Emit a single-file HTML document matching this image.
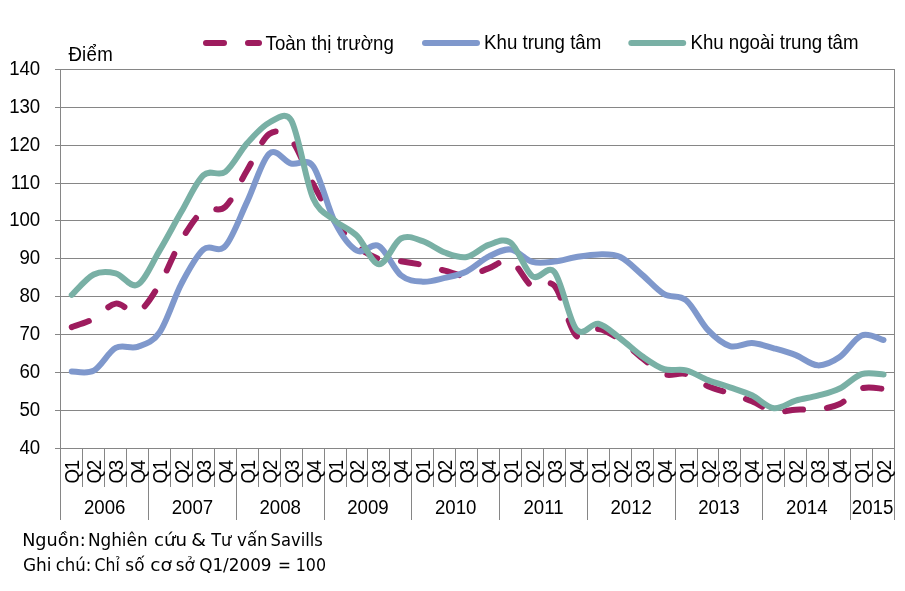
<!DOCTYPE html>
<html lang="vi">
<head>
<meta charset="utf-8">
<title>Chỉ số giá</title>
<style>
html,body{margin:0;padding:0;background:#fff;}
body{width:905px;height:591px;overflow:hidden;position:relative;}
svg{will-change:transform;position:absolute;left:0;top:0;display:block;}
.a{font-family:"Liberation Sans",Arial,sans-serif;font-size:18.67px;fill:#000;}
.n{font-family:"DejaVu Sans","Liberation Sans",sans-serif;font-size:17.5px;fill:#000;}
</style>
</head>
<body>
<svg width="905" height="591" viewBox="0 0 905 591">
<rect x="0" y="0" width="905" height="591" fill="#ffffff"/>
<g stroke="#868686" stroke-width="1" shape-rendering="crispEdges"><line x1="55" y1="69.5" x2="895" y2="69.5"/><line x1="55" y1="107.5" x2="895" y2="107.5"/><line x1="55" y1="145.5" x2="895" y2="145.5"/><line x1="55" y1="183.5" x2="895" y2="183.5"/><line x1="55" y1="220.5" x2="895" y2="220.5"/><line x1="55" y1="258.5" x2="895" y2="258.5"/><line x1="55" y1="296.5" x2="895" y2="296.5"/><line x1="55" y1="334.5" x2="895" y2="334.5"/><line x1="55" y1="372.5" x2="895" y2="372.5"/><line x1="55" y1="410.5" x2="895" y2="410.5"/><line x1="55" y1="448.5" x2="895" y2="448.5"/><line x1="60.5" y1="69" x2="60.5" y2="519.5"/><line x1="894.5" y1="69" x2="894.5" y2="448"/><line x1="82.5" y1="448" x2="82.5" y2="486.5"/><line x1="104.5" y1="448" x2="104.5" y2="486.5"/><line x1="126.5" y1="448" x2="126.5" y2="486.5"/><line x1="148.5" y1="448" x2="148.5" y2="519.5"/><line x1="170.5" y1="448" x2="170.5" y2="486.5"/><line x1="192.5" y1="448" x2="192.5" y2="486.5"/><line x1="214.5" y1="448" x2="214.5" y2="486.5"/><line x1="236.5" y1="448" x2="236.5" y2="519.5"/><line x1="258.5" y1="448" x2="258.5" y2="486.5"/><line x1="280.5" y1="448" x2="280.5" y2="486.5"/><line x1="302.5" y1="448" x2="302.5" y2="486.5"/><line x1="324.5" y1="448" x2="324.5" y2="519.5"/><line x1="346.5" y1="448" x2="346.5" y2="486.5"/><line x1="367.5" y1="448" x2="367.5" y2="486.5"/><line x1="389.5" y1="448" x2="389.5" y2="486.5"/><line x1="411.5" y1="448" x2="411.5" y2="519.5"/><line x1="433.5" y1="448" x2="433.5" y2="486.5"/><line x1="455.5" y1="448" x2="455.5" y2="486.5"/><line x1="477.5" y1="448" x2="477.5" y2="486.5"/><line x1="499.5" y1="448" x2="499.5" y2="519.5"/><line x1="521.5" y1="448" x2="521.5" y2="486.5"/><line x1="543.5" y1="448" x2="543.5" y2="486.5"/><line x1="565.5" y1="448" x2="565.5" y2="486.5"/><line x1="587.5" y1="448" x2="587.5" y2="519.5"/><line x1="609.5" y1="448" x2="609.5" y2="486.5"/><line x1="631.5" y1="448" x2="631.5" y2="486.5"/><line x1="653.5" y1="448" x2="653.5" y2="486.5"/><line x1="675.5" y1="448" x2="675.5" y2="519.5"/><line x1="697.5" y1="448" x2="697.5" y2="486.5"/><line x1="718.5" y1="448" x2="718.5" y2="486.5"/><line x1="740.5" y1="448" x2="740.5" y2="486.5"/><line x1="762.5" y1="448" x2="762.5" y2="519.5"/><line x1="784.5" y1="448" x2="784.5" y2="486.5"/><line x1="806.5" y1="448" x2="806.5" y2="486.5"/><line x1="828.5" y1="448" x2="828.5" y2="486.5"/><line x1="850.5" y1="448" x2="850.5" y2="519.5"/><line x1="872.5" y1="448" x2="872.5" y2="486.5"/><line x1="894.5" y1="448" x2="894.5" y2="519.5"/></g>
<g class="a" text-anchor="end" style="letter-spacing:-0.2px"><text transform="translate(39.90 74.60) scale(1 1.040)">140</text><text transform="translate(39.90 112.60) scale(1 1.040)">130</text><text transform="translate(39.90 150.60) scale(1 1.040)">120</text><text transform="translate(39.90 188.60) scale(1 1.040)">110</text><text transform="translate(39.90 225.60) scale(1 1.040)">100</text><text transform="translate(39.90 263.60) scale(1 1.040)">90</text><text transform="translate(39.90 301.60) scale(1 1.040)">80</text><text transform="translate(39.90 339.60) scale(1 1.040)">70</text><text transform="translate(39.90 377.60) scale(1 1.040)">60</text><text transform="translate(39.90 415.60) scale(1 1.040)">50</text><text transform="translate(39.90 453.60) scale(1 1.040)">40</text></g>
<text transform="translate(68.40 60.70) scale(1 1.040)" class="a" style="letter-spacing:0.25px">Điểm</text>
<g class="a" style="letter-spacing:-1.4px"><text transform="translate(79.27 483.4) rotate(-90) scale(1 1.040)">Q1</text><text transform="translate(101.21 483.4) rotate(-90) scale(1 1.040)">Q2</text><text transform="translate(123.15 483.4) rotate(-90) scale(1 1.040)">Q3</text><text transform="translate(145.09 483.4) rotate(-90) scale(1 1.040)">Q4</text><text transform="translate(167.03 483.4) rotate(-90) scale(1 1.040)">Q1</text><text transform="translate(188.97 483.4) rotate(-90) scale(1 1.040)">Q2</text><text transform="translate(210.91 483.4) rotate(-90) scale(1 1.040)">Q3</text><text transform="translate(232.85 483.4) rotate(-90) scale(1 1.040)">Q4</text><text transform="translate(254.79 483.4) rotate(-90) scale(1 1.040)">Q1</text><text transform="translate(276.73 483.4) rotate(-90) scale(1 1.040)">Q2</text><text transform="translate(298.67 483.4) rotate(-90) scale(1 1.040)">Q3</text><text transform="translate(320.61 483.4) rotate(-90) scale(1 1.040)">Q4</text><text transform="translate(342.55 483.4) rotate(-90) scale(1 1.040)">Q1</text><text transform="translate(364.49 483.4) rotate(-90) scale(1 1.040)">Q2</text><text transform="translate(386.43 483.4) rotate(-90) scale(1 1.040)">Q3</text><text transform="translate(408.37 483.4) rotate(-90) scale(1 1.040)">Q4</text><text transform="translate(430.31 483.4) rotate(-90) scale(1 1.040)">Q1</text><text transform="translate(452.25 483.4) rotate(-90) scale(1 1.040)">Q2</text><text transform="translate(474.19 483.4) rotate(-90) scale(1 1.040)">Q3</text><text transform="translate(496.13 483.4) rotate(-90) scale(1 1.040)">Q4</text><text transform="translate(518.07 483.4) rotate(-90) scale(1 1.040)">Q1</text><text transform="translate(540.01 483.4) rotate(-90) scale(1 1.040)">Q2</text><text transform="translate(561.95 483.4) rotate(-90) scale(1 1.040)">Q3</text><text transform="translate(583.89 483.4) rotate(-90) scale(1 1.040)">Q4</text><text transform="translate(605.83 483.4) rotate(-90) scale(1 1.040)">Q1</text><text transform="translate(627.77 483.4) rotate(-90) scale(1 1.040)">Q2</text><text transform="translate(649.71 483.4) rotate(-90) scale(1 1.040)">Q3</text><text transform="translate(671.65 483.4) rotate(-90) scale(1 1.040)">Q4</text><text transform="translate(693.59 483.4) rotate(-90) scale(1 1.040)">Q1</text><text transform="translate(715.53 483.4) rotate(-90) scale(1 1.040)">Q2</text><text transform="translate(737.47 483.4) rotate(-90) scale(1 1.040)">Q3</text><text transform="translate(759.41 483.4) rotate(-90) scale(1 1.040)">Q4</text><text transform="translate(781.35 483.4) rotate(-90) scale(1 1.040)">Q1</text><text transform="translate(803.29 483.4) rotate(-90) scale(1 1.040)">Q2</text><text transform="translate(825.23 483.4) rotate(-90) scale(1 1.040)">Q3</text><text transform="translate(847.17 483.4) rotate(-90) scale(1 1.040)">Q4</text><text transform="translate(869.11 483.4) rotate(-90) scale(1 1.040)">Q1</text><text transform="translate(891.05 483.4) rotate(-90) scale(1 1.040)">Q2</text></g>
<g class="a" text-anchor="middle"><text transform="translate(104.68 514.20) scale(1 1.040)">2006</text><text transform="translate(192.44 514.20) scale(1 1.040)">2007</text><text transform="translate(280.20 514.20) scale(1 1.040)">2008</text><text transform="translate(367.96 514.20) scale(1 1.040)">2009</text><text transform="translate(455.72 514.20) scale(1 1.040)">2010</text><text transform="translate(543.48 514.20) scale(1 1.040)">2011</text><text transform="translate(631.24 514.20) scale(1 1.040)">2012</text><text transform="translate(719.00 514.20) scale(1 1.040)">2013</text><text transform="translate(806.76 514.20) scale(1 1.040)">2014</text><text transform="translate(872.58 514.20) scale(1 1.040)" textLength="41.6" lengthAdjust="spacingAndGlyphs">2015</text></g>
<g fill="none" stroke-linecap="round" stroke-linejoin="round" stroke-width="6"><path d="M71.77 327.12 C75.43 325.73 86.40 322.70 93.71 318.78 C101.02 314.87 108.34 304.77 115.65 303.64 C122.96 302.50 130.28 315.19 137.59 311.97 C144.90 308.75 152.22 296.32 159.53 284.32 C166.84 272.33 174.16 252.32 181.47 240.02 C188.78 227.71 196.10 216.03 203.41 210.48 C210.72 204.92 218.04 213.44 225.35 206.69 C232.66 199.94 239.98 182.07 247.29 169.96 C254.60 157.84 261.92 139.03 269.23 133.98 C276.54 128.93 283.86 131.33 291.17 139.66 C298.48 147.99 305.80 170.27 313.11 183.97 C320.42 197.66 327.74 211.49 335.05 221.84 C342.36 232.19 349.68 239.89 356.99 246.07 C364.30 252.26 371.62 256.43 378.93 258.95 C386.24 261.47 393.56 260.21 400.87 261.22 C408.18 262.23 415.50 263.43 422.81 265.01 C430.12 266.59 437.44 268.86 444.75 270.69 C452.06 272.52 459.38 276.37 466.69 275.99 C474.00 275.61 481.32 270.94 488.63 268.42 C495.94 265.89 503.26 257.81 510.57 260.84 C517.88 263.87 525.20 282.43 532.51 286.60 C539.82 290.76 547.15 277.64 554.45 285.84 C561.76 294.04 569.08 328.63 576.39 335.83 C583.70 343.02 591.02 328.32 598.33 329.01 C605.64 329.70 612.96 335.13 620.27 339.99 C627.58 344.85 634.90 352.49 642.21 358.17 C649.52 363.85 656.84 371.42 664.15 374.07 C671.46 376.73 678.78 372.06 686.09 374.07 C693.40 376.09 700.72 382.97 708.03 386.19 C715.34 389.41 722.66 390.86 729.97 393.39 C737.28 395.91 744.60 398.31 751.91 401.34 C759.22 404.37 766.54 410.18 773.85 411.57 C781.16 412.95 788.48 410.05 795.79 409.67 C803.10 409.29 810.42 410.24 817.73 409.29 C825.04 408.35 832.36 407.46 839.67 403.99 C846.98 400.52 854.30 390.99 861.61 388.47 C868.92 385.94 879.89 388.78 883.55 388.84" stroke="#9E1C5E" stroke-dasharray="18 24"/><path d="M71.77 371.42 C75.43 371.30 86.40 374.58 93.71 370.67 C101.02 366.75 108.34 351.92 115.65 347.94 C122.96 343.97 130.28 349.40 137.59 346.81 C144.90 344.22 152.22 342.96 159.53 332.42 C166.84 321.88 174.16 297.39 181.47 283.57 C188.78 269.74 196.10 255.73 203.41 249.48 C210.72 243.23 218.04 254.09 225.35 246.07 C232.66 238.06 239.98 216.79 247.29 201.39 C254.60 185.99 261.92 159.98 269.23 153.67 C276.54 147.36 283.86 161.43 291.17 163.52 C298.48 165.60 306.52 157.30 313.11 166.17 C320.42 176.01 327.74 208.52 335.05 222.59 C342.36 236.67 349.68 246.71 356.99 250.62 C364.30 254.53 371.62 241.97 378.93 246.07 C386.24 250.18 393.56 269.30 400.87 275.23 C408.18 281.17 415.50 281.23 422.81 281.67 C430.12 282.11 437.44 279.59 444.75 277.88 C452.06 276.18 459.38 274.98 466.69 271.45 C474.00 267.91 481.32 260.34 488.63 256.68 C495.94 253.02 503.26 248.60 510.57 249.48 C517.88 250.37 525.20 259.96 532.51 261.98 C539.82 264.00 547.14 262.42 554.45 261.60 C561.76 260.78 569.08 258.26 576.39 257.06 C583.70 255.86 591.02 254.41 598.33 254.41 C605.64 254.41 612.96 253.65 620.27 257.06 C627.58 260.46 634.90 268.67 642.21 274.86 C649.52 281.04 656.84 289.94 664.15 294.17 C671.46 298.40 678.78 294.23 686.09 300.23 C693.40 306.22 700.72 322.51 708.03 330.15 C715.34 337.78 722.66 343.91 729.97 346.05 C737.28 348.20 744.60 342.64 751.91 343.02 C759.22 343.40 766.54 346.30 773.85 348.32 C781.16 350.34 788.48 352.30 795.79 355.14 C803.10 357.98 810.42 365.05 817.73 365.36 C825.04 365.68 832.36 362.02 839.67 357.03 C846.98 352.05 854.30 338.29 861.61 335.45 C868.92 332.61 879.89 339.23 883.55 339.99" stroke="#7F98CC"/><path d="M71.77 294.93 C75.43 291.52 86.40 278.07 93.71 274.48 C101.02 270.88 108.34 271.64 115.65 273.34 C122.96 275.04 130.28 288.49 137.59 284.70 C144.90 280.91 152.22 262.80 159.53 250.62 C166.84 238.44 174.16 224.17 181.47 211.61 C188.78 199.05 196.10 181.88 203.41 175.26 C210.72 168.63 218.04 177.21 225.35 171.85 C232.66 166.48 239.98 151.27 247.29 143.07 C254.60 134.86 261.92 126.40 269.23 122.62 C276.54 118.83 285.64 110.80 291.17 120.35 C298.48 132.97 305.80 181.63 313.11 198.36 C319.38 212.70 327.74 214.45 335.05 220.70 C342.36 226.95 349.68 228.59 356.99 235.85 C364.30 243.11 371.62 263.81 378.93 264.25 C386.24 264.69 393.56 242.35 400.87 238.50 C408.18 234.65 415.50 238.82 422.81 241.15 C430.12 243.49 437.44 249.86 444.75 252.51 C452.06 255.16 459.38 258.32 466.69 257.06 C474.00 255.79 481.32 247.34 488.63 244.94 C495.94 242.54 503.26 237.43 510.57 242.67 C517.88 247.90 525.20 271.45 532.51 276.37 C539.82 281.29 547.33 263.60 554.45 272.20 C561.76 281.04 569.08 320.80 576.39 329.39 C583.70 337.97 591.02 322.19 598.33 323.71 C605.64 325.22 612.96 333.05 620.27 338.48 C627.58 343.91 634.90 351.16 642.21 356.28 C649.52 361.39 656.84 366.82 664.15 369.15 C671.46 371.49 678.78 368.46 686.09 370.29 C693.40 372.12 700.72 377.29 708.03 380.13 C715.34 382.97 722.66 384.80 729.97 387.33 C737.28 389.85 744.60 391.81 751.91 395.28 C759.22 398.75 766.54 407.27 773.85 408.16 C781.16 409.04 788.48 402.67 795.79 400.58 C803.10 398.50 810.42 397.68 817.73 395.66 C825.04 393.64 832.36 392.06 839.67 388.47 C846.98 384.87 854.30 376.41 861.61 374.07 C868.92 371.74 879.89 374.39 883.55 374.45" stroke="#79B0A5"/><path d="M206 43H259" stroke="#9E1C5E" stroke-dasharray="18 24"/><path d="M425 43H477" stroke="#7F98CC"/><path d="M631.3 43H683.2" stroke="#79B0A5"/></g>
<text transform="translate(265.50 49.80) scale(1 1.040)" class="a" style="letter-spacing:0.07px">Toàn thị trường</text><text transform="translate(484.10 48.70) scale(1 1.040)" class="a">Khu trung tâm</text><text transform="translate(690.50 48.70) scale(1 1.040)" class="a">Khu ngoài trung tâm</text>
<g class="n"><text transform="translate(22.14 546.0) scale(1.008 1)">Nguồn:</text> <text transform="translate(87.91 546.0) scale(0.963 1)">Nghiên</text> <text transform="translate(153.96 546.0) scale(1.039 1)">cứu</text> <text transform="translate(191.19 546.0) scale(1.080 1)">&amp;</text> <text transform="translate(211.20 546.0) scale(0.920 1)">Tư</text> <text transform="translate(237.02 546.0) scale(0.952 1)">vấn</text> <text transform="translate(270.53 546.0) scale(0.936 1)">Savills</text> <text transform="translate(22.93 571.0) scale(0.968 1)">Ghi</text> <text transform="translate(55.75 571.0) scale(0.947 1)">chú:</text> <text transform="translate(94.61 571.0) scale(0.893 1)">Chỉ</text> <text transform="translate(125.33 571.0) scale(0.968 1)">số</text> <text transform="translate(150.34 571.0) scale(1.060 1)">cơ</text> <text transform="translate(175.85 571.0) scale(0.955 1)">sở</text> <text transform="translate(199.14 571.0) scale(0.962 1)">Q1/2009</text> <text transform="translate(278.12 571.0) scale(0.880 1)">=</text> <text transform="translate(295.68 571.0) scale(0.909 1)">100</text> </g>
</svg>
</body>
</html>
